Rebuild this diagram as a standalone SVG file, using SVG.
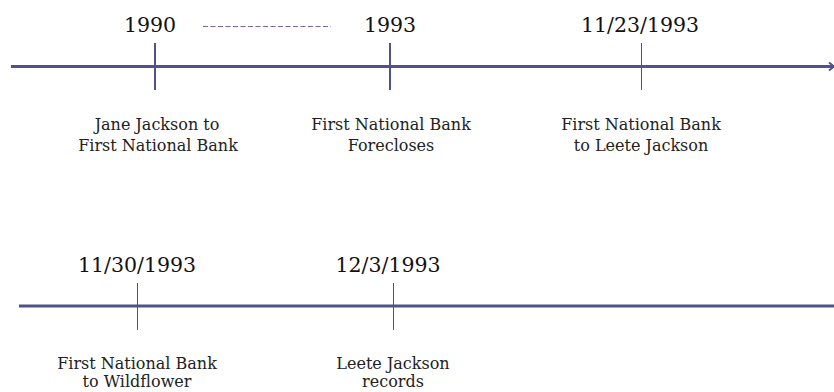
<svg xmlns="http://www.w3.org/2000/svg" width="834" height="392" viewBox="0 0 834 392">
<defs>
<style>
.axis{stroke:#51528D;stroke-width:3;fill:none}
.tick{stroke:#51528D;fill:none}
.t2{stroke-width:2}
.t1{stroke-width:1}
.dash{stroke:#6F6BAA;stroke-width:1.2;stroke-dasharray:5 2.5;fill:none}
.date{font-family:"DejaVu Serif","Liberation Serif",serif;font-size:20.5px;fill:#111;text-anchor:middle}
.lab{font-family:"DejaVu Serif","Liberation Serif",serif;font-size:16px;fill:#222;text-anchor:middle}
</style>
<marker id="chev" markerWidth="10" markerHeight="10" refX="6" refY="5" orient="auto" markerUnits="userSpaceOnUse">
<path d="M1,1 L6,5 L1,9" fill="none" stroke="#51528D" stroke-width="2"/>
</marker>
</defs>
<rect width="834" height="392" fill="#fff"/>
<g id="connectors">
<line class="axis" x1="11" y1="66.5" x2="834" y2="66.5" marker-end="url(#chev)"/>
<line class="axis" x1="19" y1="306" x2="834" y2="306"/>
<line class="dash" x1="203" y1="26.5" x2="331" y2="26.5"/>
</g>
<g id="n1990">
<line class="tick t2" x1="155" y1="43" x2="155" y2="90"/>
<text class="date" x="150" y="32">1990</text>
<text class="lab" x="157" y="130">Jane Jackson to</text>
<text class="lab" x="158" y="151">First National Bank</text>
</g>
<g id="n1993">
<line class="tick t2" x1="390" y1="43" x2="390" y2="90"/>
<text class="date" x="390" y="32">1993</text>
<text class="lab" x="391" y="130">First National Bank</text>
<text class="lab" x="391" y="151">Forecloses</text>
</g>
<g id="n112393">
<line class="tick t1" x1="641.5" y1="43" x2="641.5" y2="90"/>
<text class="date" x="640" y="32">11/23/1993</text>
<text class="lab" x="641" y="130">First National Bank</text>
<text class="lab" x="641" y="151">to Leete Jackson</text>
</g>
<g id="n113093">
<line class="tick t1" x1="137.5" y1="283" x2="137.5" y2="330"/>
<text class="date" x="137" y="272">11/30/1993</text>
<text class="lab" x="137" y="369">First National Bank</text>
<text class="lab" x="137" y="387">to Wildflower</text>
</g>
<g id="n12393">
<line class="tick t1" x1="393.5" y1="283" x2="393.5" y2="330"/>
<text class="date" x="388" y="272">12/3/1993</text>
<text class="lab" x="393" y="369">Leete Jackson</text>
<text class="lab" x="393" y="387">records</text>
</g>
</svg>
